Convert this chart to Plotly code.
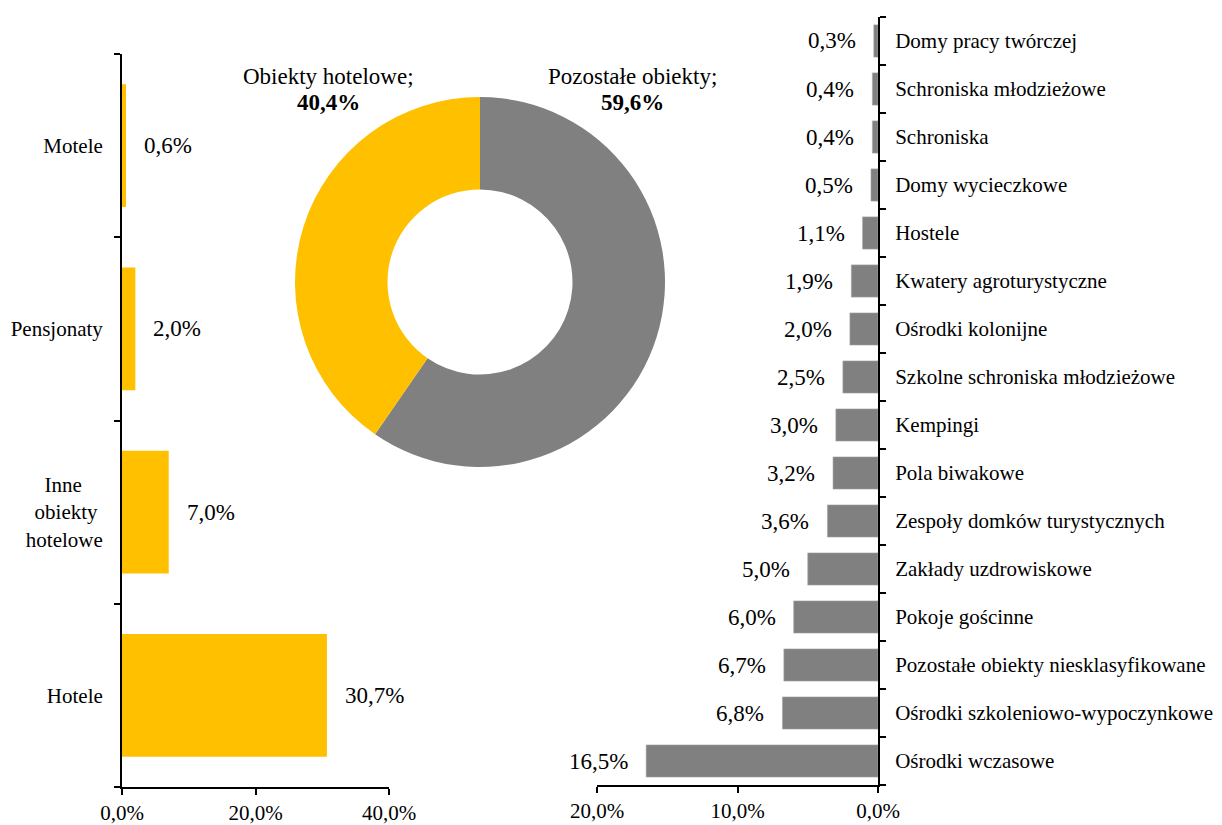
import plotly.graph_objects as go

# page body has an 8px margin: work in reference pixels and shift
OFF = 8
W, H = 1222 - OFF, 825 - OFF
FONT = "Times New Roman, Liberation Serif, serif"

# ---- data ----
hotel_cats = ["Hotele", "Inne<br>obiekty<br>hotelowe", "Pensjonaty", "Motele"]
hotel_vals = [30.7, 7.0, 2.0, 0.6]

other_cats = [
    "Ośrodki wczasowe",
    "Ośrodki szkoleniowo-wypoczynkowe",
    "Pozostałe obiekty niesklasyfikowane",
    "Pokoje gościnne",
    "Zakłady uzdrowiskowe",
    "Zespoły domków turystycznych",
    "Pola biwakowe",
    "Kempingi",
    "Szkolne schroniska młodzieżowe",
    "Ośrodki kolonijne",
    "Kwatery agroturystyczne",
    "Hostele",
    "Domy wycieczkowe",
    "Schroniska",
    "Schroniska młodzieżowe",
    "Domy pracy twórczej",
]
other_vals = [16.5, 6.8, 6.7, 6.0, 5.0, 3.6, 3.2, 3.0, 2.5, 2.0, 1.9, 1.1, 0.5, 0.4, 0.4, 0.3]

pie_labels = ["Pozostałe obiekty", "Obiekty hotelowe"]
pie_vals = [59.6, 40.4]

left_ticks = [0, 20, 40]
right_ticks = [0, 10, 20]

YELLOW = "#FFC000"
GRAY = "#808080"


def px_x(p):
    return (p - OFF) / W


def px_y(p):
    return 1 - (p - OFF) / H


def pct(v):
    return f"{v:.1f}".replace(".", ",") + "%"


# centre the multi-line label with non-breaking spaces
def centre_lines(label):
    if "<br>" not in label:
        return label
    pads = {"Inne": 4, "obiekty": 1, "hotelowe": 0}
    parts = label.split("<br>")
    return "<br>".join(p + "\u00a0" * pads.get(p, 0) for p in parts)


hotel_tick = [centre_lines(c) for c in hotel_cats]

fig = go.Figure()

fig.add_trace(go.Bar(
    x=hotel_vals, y=hotel_tick, orientation="h",
    marker=dict(color=YELLOW, line=dict(width=0)),
    xaxis="x", yaxis="y", showlegend=False, hoverinfo="skip",
))
fig.add_trace(go.Bar(
    x=other_vals, y=other_cats, orientation="h",
    marker=dict(color=GRAY, line=dict(color="#A6A6A6", width=0.6)),
    xaxis="x2", yaxis="y2", showlegend=False, hoverinfo="skip",
))
fig.add_trace(go.Pie(
    values=pie_vals, labels=pie_labels, hole=0.5, sort=False,
    direction="clockwise", rotation=0,
    marker=dict(colors=[GRAY, YELLOW], line=dict(width=0)),
    textinfo="none", hoverinfo="skip", showlegend=False,
    domain=dict(x=[px_x(295), px_x(665)], y=[px_y(467), px_y(97)]),
))

annotations = []
for c, v in zip(hotel_tick, hotel_vals):
    annotations.append(dict(
        x=v, y=c, xref="x", yref="y", text=pct(v), showarrow=False,
        xanchor="left", yanchor="middle", xshift=16,
        font=dict(family=FONT, size=23, color="black"),
    ))
for c, v in zip(other_cats, other_vals):
    annotations.append(dict(
        x=v, y=c, xref="x2", yref="y2", text=pct(v), showarrow=False,
        xanchor="right", yanchor="middle", xshift=-16,
        font=dict(family=FONT, size=23, color="black"),
    ))

# pie labels
pie_pos = {"Obiekty hotelowe": 328, "Pozostałe obiekty": 632}
for lab, v in zip(pie_labels, pie_vals):
    annotations.append(dict(
        x=px_x(pie_pos[lab]), y=px_y(76), xref="paper", yref="paper",
        text=lab + ";", showarrow=False, xanchor="center", yanchor="middle",
        font=dict(family=FONT, size=23, color="black"),
    ))
    annotations.append(dict(
        x=px_x(pie_pos[lab]), y=px_y(102), xref="paper", yref="paper",
        text="<b>" + pct(v) + "</b>", showarrow=False, xanchor="center", yanchor="middle",
        font=dict(family=FONT, size=23, color="black"),
    ))

axis_common = dict(
    showgrid=False, zeroline=False, showline=True, linecolor="black", linewidth=2,
    ticks="outside", tickcolor="black", tickwidth=1.5, ticklen=6, automargin=False,
    tickfont=dict(family=FONT, size=21, color="black"),
)

fig.update_layout(
    template="none",
    width=W, height=H,
    margin=dict(l=0, r=0, t=0, b=0, pad=0),
    paper_bgcolor="white", plot_bgcolor="white",
    bargap=0.33,
    font=dict(family=FONT, size=21, color="black"),
    xaxis=dict(**axis_common, domain=[px_x(122), px_x(389)], range=[0, 40],
               tickvals=left_ticks, ticktext=[pct(t) for t in left_ticks],
               anchor="y", ticklabelstandoff=0),
    yaxis=dict(**axis_common, domain=[px_y(787), px_y(54)], type="category",
               tickson="boundaries", anchor="x", ticklabelstandoff=13),
    xaxis2=dict(**axis_common, domain=[px_x(597), px_x(878)], range=[20, 0],
                tickvals=right_ticks, ticktext=[pct(t) for t in right_ticks],
                anchor="y2", ticklabelstandoff=0),
    yaxis2=dict(**axis_common, domain=[px_y(785), px_y(17)], type="category",
                tickson="boundaries", side="right", anchor="x2", ticklabelstandoff=11),
    annotations=annotations,
)

fig.write_html("out.html")
